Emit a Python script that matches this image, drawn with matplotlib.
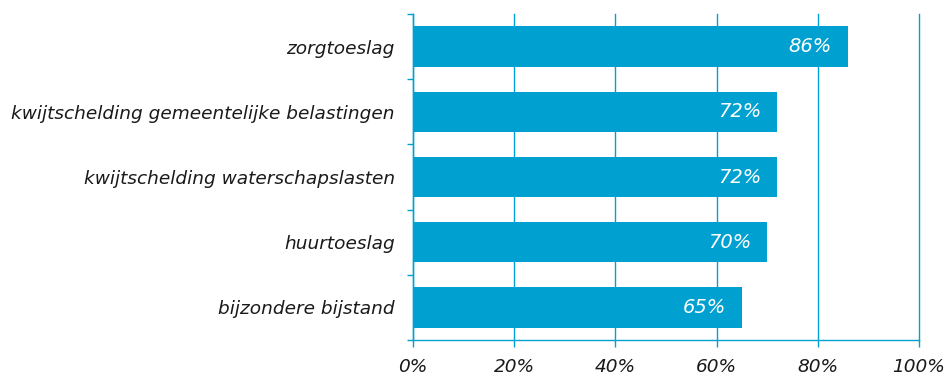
import matplotlib
matplotlib.use('Agg')
import numpy as np
import matplotlib.pyplot as plt
from matplotlib.ticker import FixedLocator, FuncFormatter

categories = ['zorgtoeslag', 'kwijtschelding gemeentelijke belastingen',
              'kwijtschelding waterschapslasten', 'huurtoeslag', 'bijzondere bijstand']
values = [86, 72, 72, 70, 65]
xticks = [0, 20, 40, 60, 80, 100]

blue = '#00a0d0'
fs = 13.3

fig = plt.figure(figsize=(9.5, 3.76), dpi=100)
ax = fig.add_axes([0.4347, 0.0957, 0.5327, 0.8671])

y = np.arange(len(categories))[::-1]
ax.barh(y, values, height=0.62, color=blue, zorder=3)

for yi, v in zip(y, values):
    ax.text(v - 3.2, yi, f'{v}%', color='white', fontsize=14, style='italic',
            ha='right', va='center', zorder=4)

ax.set_xlim(0, 100)
ax.set_ylim(-0.5, len(categories) - 0.5)
ax.set_xticks(xticks)
ax.xaxis.set_major_formatter(FuncFormatter(lambda v, p: f'{v:.0f}%'))
ax.grid(axis='x', color=blue, linewidth=1, zorder=0)
for gl in ax.get_xgridlines():
    gl.set_clip_on(False)

# labels at bar centres, tick marks on the band boundaries
ax.set_yticks(y)
ax.set_yticklabels(categories)
ax.yaxis.set_minor_locator(FixedLocator(np.arange(-0.5, len(categories), 1)))
ax.tick_params(axis='y', which='major', length=0, pad=13)
ax.tick_params(axis='y', which='minor', length=4, color=blue, width=1)
ax.tick_params(axis='x', length=5, color=blue, width=1, pad=8)

for lab in ax.get_yticklabels() + ax.get_xticklabels():
    lab.set_fontsize(fs)
    lab.set_style('italic')
    lab.set_color('#1a1a1a')

for side in ['top', 'right']:
    ax.spines[side].set_visible(False)
for side in ['left', 'bottom']:
    ax.spines[side].set_color(blue)
    ax.spines[side].set_linewidth(1)

fig.savefig('out.png', dpi=100)
